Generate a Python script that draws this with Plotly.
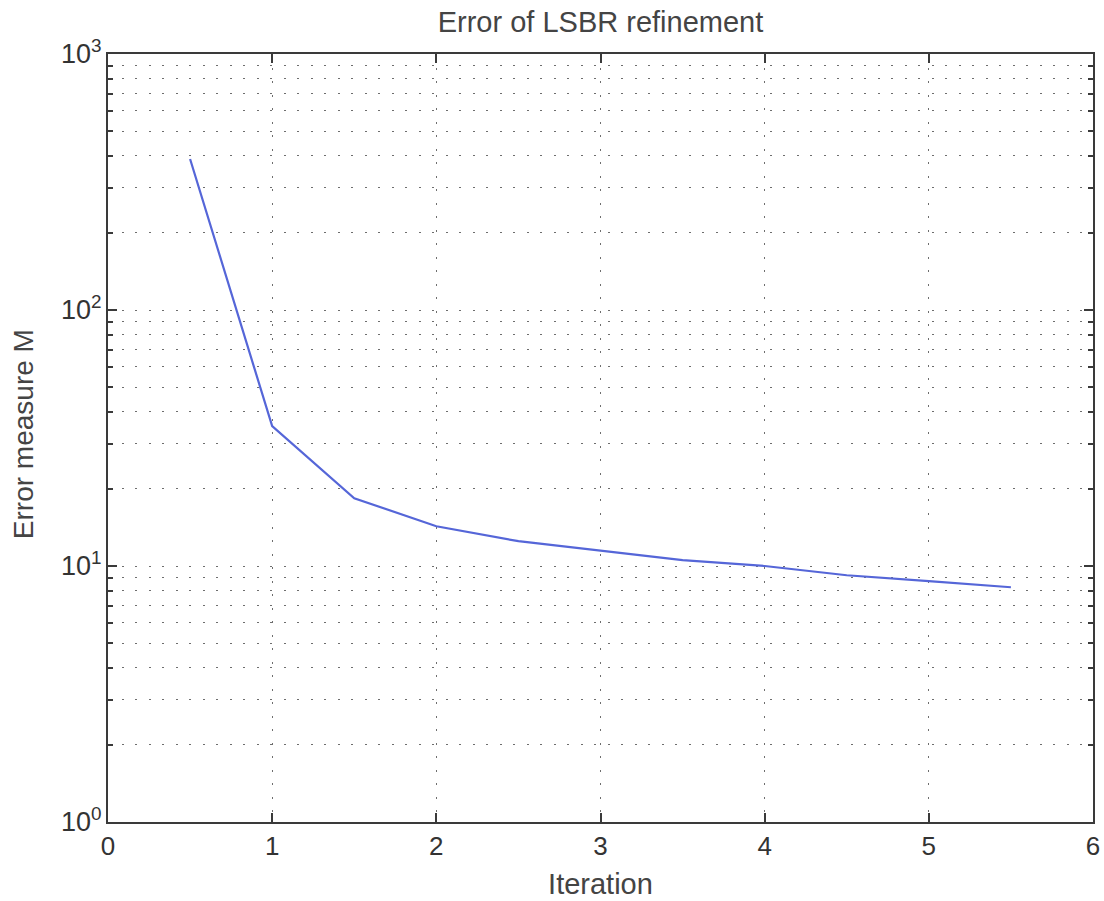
import plotly.graph_objects as go

iterations = [0.5, 1.0, 1.5, 2.0, 2.5, 3.0, 3.5, 4.0, 4.5, 5.0, 5.5]
error_m = [389, 35.2, 18.4, 14.3, 12.5, 11.5, 10.55, 10.0, 9.2, 8.73, 8.26]

x_ticks = [0, 1, 2, 3, 4, 5, 6]
y_major = [1, 10, 100, 1000]
y_major_text = ["10<sup>0</sup>", "10<sup>1</sup>", "10<sup>2</sup>", "10<sup>3</sup>"]
y_minor = [m * d for d in [1, 10, 100] for m in range(2, 10)]

axis_col = "#3a3a3a"
grid_col = "#6e6e6e"
grid_dash = "2px,11.5px"
font_fam = "Liberation Sans, Arial, Helvetica, sans-serif"

fig = go.Figure()
fig.add_trace(go.Scatter(
    x=iterations, y=error_m, mode="lines",
    line=dict(color="#5566d8", width=2.2),
    showlegend=False,
))

fig.update_layout(
    width=1104, height=901,
    margin=dict(l=108, r=11, t=54, b=79, autoexpand=False),
    paper_bgcolor="white", plot_bgcolor="white",
    font=dict(family=font_fam, color="#333333"),
    title=dict(text="Error of LSBR refinement", x=0.5, xref="paper",
               xanchor="center", y=1 - 22 / 901, yref="container", yanchor="middle",
               font=dict(size=29, color="#444444")),
    annotations=[dict(
        text="Error measure M", textangle=-90, showarrow=False,
        xref="paper", yref="paper", x=(23 - 108) / 985, y=0.505,
        xanchor="center", yanchor="middle",
        font=dict(size=28, color="#444444"),
    )],
)

fig.update_xaxes(
    range=[0, 6], tickvals=x_ticks, ticktext=[str(v) for v in x_ticks],
    showline=True, linecolor=axis_col, linewidth=2, mirror="ticks",
    ticks="inside", ticklen=9, tickwidth=1.5, tickcolor=axis_col,
    showgrid=True, gridcolor=grid_col, gridwidth=1, griddash=grid_dash,
    zeroline=False, automargin=False,
    tickfont=dict(size=26, color="#333333"),
    title=dict(text="Iteration", font=dict(size=29, color="#444444"), standoff=13),
)

fig.update_yaxes(
    type="log", range=[0, 3],
    tickvals=y_major, ticktext=y_major_text,
    showline=True, linecolor=axis_col, linewidth=2, mirror="ticks",
    ticks="inside", ticklen=9, tickwidth=1.5, tickcolor=axis_col,
    showgrid=True, gridcolor=grid_col, gridwidth=1, griddash=grid_dash,
    zeroline=False, automargin=False,
    minor=dict(tickvals=y_minor, ticks="inside", ticklen=5, tickwidth=1.5,
               tickcolor=axis_col, showgrid=True, gridcolor=grid_col,
               gridwidth=1, griddash=grid_dash),
    tickfont=dict(size=27, color="#333333"),
    ticklabelstandoff=-1,
)

fig.write_html("out.html")
